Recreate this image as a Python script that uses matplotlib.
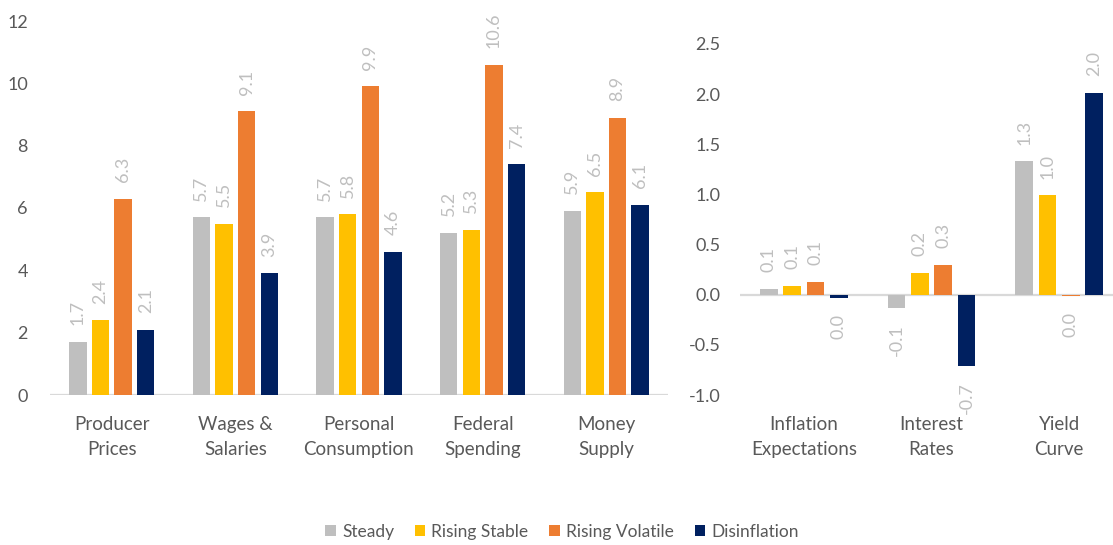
import numpy as np
import matplotlib
matplotlib.use("Agg")
import matplotlib.pyplot as plt
from matplotlib.patches import Patch

plt.rcParams["font.family"] = ["Lato", "DejaVu Sans"]

# ---------------------------
# Data
# ---------------------------
series = ["Steady", "Rising Stable", "Rising Volatile", "Disinflation"]
colors = ["#BFBFBF", "#FFC000", "#ED7D31", "#002060"]

left_categories = ["Producer\nPrices", "Wages &\nSalaries", "Personal\nConsumption",
                   "Federal\nSpending", "Money\nSupply"]
left_steady = [1.7, 5.7, 5.7, 5.2, 5.9]
left_rising_stable = [2.4, 5.5, 5.8, 5.3, 6.5]
left_rising_volatile = [6.3, 9.1, 9.9, 10.6, 8.9]
left_disinflation = [2.1, 3.9, 4.6, 7.4, 6.1]

right_categories = ["Inflation\nExpectations", "Interest\nRates", "Yield\nCurve"]
right_steady = [0.06, -0.13, 1.33]
right_rising_stable = [0.09, 0.22, 0.99]
right_rising_volatile = [0.13, 0.30, -0.01]
right_disinflation = [-0.03, -0.71, 2.01]

text_color = "#595959"
label_color = "#BFBFBF"
axis_color = "#D9D9D9"
font_size = 13

# ---------------------------
# Figure
# ---------------------------
W, H = 1113, 545
fig = plt.figure(figsize=(W / 100, H / 100), dpi=100)

ax_left = fig.add_axes([50 / W, 1 - 395 / H, 618 / W, (395 - 21) / H])
ax_right = fig.add_axes([740 / W, 1 - 395 / H, 383 / W, (395 - 44) / H])


def fmt(v):
    return f"{round(v, 1) + 0.0:.1f}"


def grouped_bars(ax, categories, values, ylim, yticks, ytick_fmt, ypad):
    x = np.arange(len(categories))
    width = 0.14
    step = 0.183
    for i, (vals, color) in enumerate(zip(values, colors)):
        pos = x + (i - 1.5) * step
        ax.bar(pos, vals, width=width, color=color, zorder=2)
        for px, v in zip(pos, vals):
            ax.annotate(fmt(v), (px, v), xytext=(0, 12 if v >= 0 else -12),
                        textcoords="offset points", rotation=90,
                        ha="center", va="bottom" if v >= 0 else "top",
                        color=label_color, fontsize=font_size)
    ax.axhline(0, color=axis_color, linewidth=1.6, zorder=1)
    ax.set_xlim(-0.5, len(categories) - 0.5)
    ax.set_ylim(*ylim)
    ax.set_yticks(yticks)
    ax.set_yticklabels([ytick_fmt(t) for t in yticks])
    ax.set_xticks(x)
    ax.set_xticklabels(categories, linespacing=1.6)
    for s in ax.spines.values():
        s.set_visible(False)
    ax.tick_params(axis="x", length=0, pad=15, labelsize=font_size + 0.5, labelcolor=text_color)
    ax.tick_params(axis="y", length=0, pad=ypad, labelsize=font_size, labelcolor=text_color)
    ax.set_facecolor("none")


grouped_bars(ax_left, left_categories,
             [left_steady, left_rising_stable, left_rising_volatile, left_disinflation],
             (0, 12), np.arange(0, 13, 2), lambda t: f"{t:.0f}", 16)

grouped_bars(ax_right, right_categories,
             [right_steady, right_rising_stable, right_rising_volatile, right_disinflation],
             (-1.0, 2.5), np.arange(-1.0, 2.51, 0.5), lambda t: f"{t:.1f}", 14)

# ---------------------------
# Legend
# ---------------------------
handles = [Patch(facecolor=c, edgecolor="none", label=s) for s, c in zip(series, colors)]
fig.legend(handles=handles, loc="center", bbox_to_anchor=(562 / W, 1 - 532 / H),
           ncol=4, frameon=False, fontsize=12.5, labelcolor=text_color,
           handlelength=0.6, handleheight=0.6, handletextpad=0.35, columnspacing=1.2)

fig.savefig("out.png", dpi=100)
